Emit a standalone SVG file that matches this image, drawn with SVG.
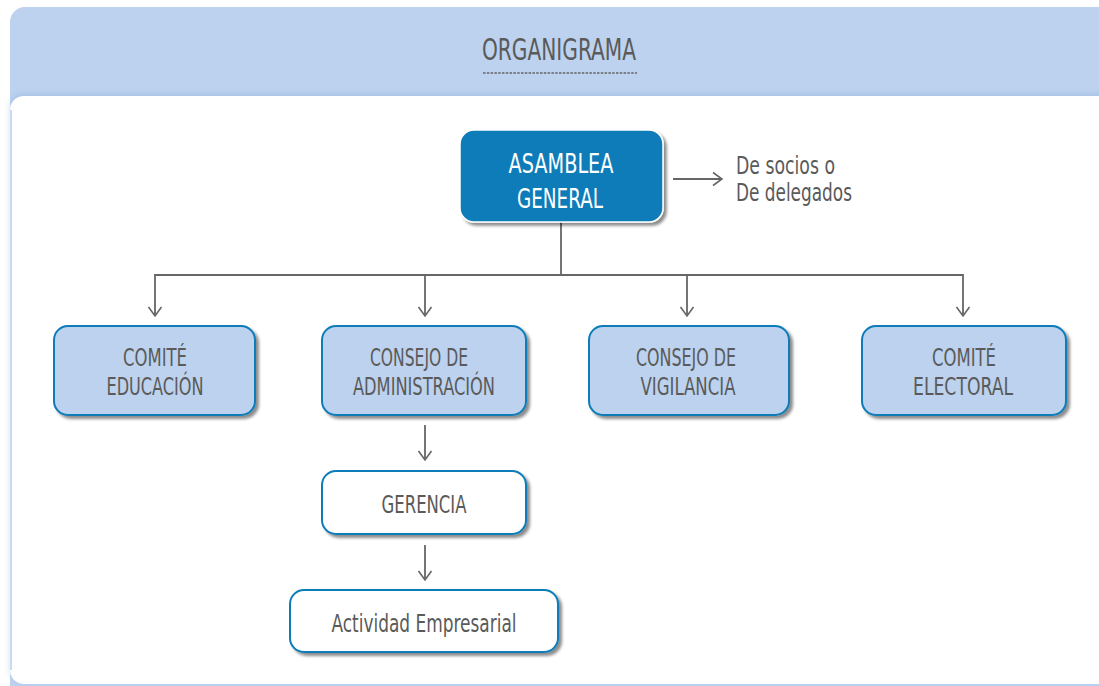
<svg xmlns="http://www.w3.org/2000/svg" width="1099" height="686" viewBox="0 0 1099 686">
<defs>
<filter id="sh" x="-10%" y="-10%" width="130%" height="140%">
<feDropShadow dx="3" dy="3" stdDeviation="1.5" flood-color="#000" flood-opacity="0.45"/>
</filter>
<filter id="psh" x="-5%" y="-5%" width="110%" height="110%">
<feDropShadow dx="0" dy="-2" stdDeviation="3" flood-color="#7f9fd0" flood-opacity="0.35"/>
</filter>
<marker id="ar" markerWidth="16" markerHeight="16" refX="11" refY="8" orient="auto" markerUnits="userSpaceOnUse">
<path d="M2,1.5 L11,8 L2,14.5" fill="none" stroke="#666" stroke-width="1.6"/>
</marker>
<style>
text{font-family:"DejaVu Sans Condensed","Liberation Sans Narrow","Liberation Sans",sans-serif;fill:#5a5a5a;text-anchor:middle;font-size:25px}
.ttl{font-size:30px}
.big{font-size:27px;fill:#fff}
.side{font-size:24px;text-anchor:start}
.act{font-size:24px}
.lb{fill:#bcd2ee;stroke:#0a7bb8;stroke-width:2}
.wb{fill:#fff;stroke:#0a7bb8;stroke-width:2}
.con{fill:none;stroke:#666;stroke-width:1.8}
</style>
</defs>
<rect x="0" y="0" width="1099" height="686" fill="#fff"/>
<rect x="10" y="7" width="1110" height="700" rx="15" fill="#bcd2ee"/>
<rect x="10" y="96" width="1110" height="588" rx="14" fill="#fff" filter="url(#psh)"/>
<path d="M11,110 L11,670" stroke="#c9daf2" stroke-width="2"/>
<g id="title">
<text class="ttl" x="559" y="60" textLength="154" lengthAdjust="spacingAndGlyphs">ORGANIGRAMA</text>
<line x1="483" y1="73" x2="637" y2="73" stroke="#666" stroke-width="1.3" stroke-dasharray="2.5,1.3"/>
</g>
<g id="connectors" class="con">
<line x1="673" y1="179" x2="722" y2="179" marker-end="url(#ar)"/>
<polyline points="561,222 561,275"/>
<line x1="155" y1="275" x2="963" y2="275"/>
<line x1="155" y1="274" x2="155" y2="316" marker-end="url(#ar)"/>
<line x1="425" y1="275" x2="425" y2="316" marker-end="url(#ar)"/>
<line x1="687" y1="275" x2="687" y2="316" marker-end="url(#ar)"/>
<line x1="963" y1="274" x2="963" y2="316" marker-end="url(#ar)"/>
<line x1="425" y1="425" x2="425" y2="460" marker-end="url(#ar)"/>
<line x1="425" y1="545" x2="425" y2="580" marker-end="url(#ar)"/>
</g>
<g id="asamblea">
<rect x="460" y="130" width="203" height="92" rx="14" fill="#0a7bb8" stroke="#fff" stroke-width="1.5" filter="url(#sh)"/>
<text class="big" x="561" y="173" textLength="105" lengthAdjust="spacingAndGlyphs">ASAMBLEA</text>
<text class="big" x="560" y="208" textLength="86" lengthAdjust="spacingAndGlyphs">GENERAL</text>
</g>
<g id="socios">
<text class="side" x="736" y="174" textLength="99" lengthAdjust="spacingAndGlyphs">De socios o</text>
<text class="side" x="736" y="201" textLength="116" lengthAdjust="spacingAndGlyphs">De delegados</text>
</g>
<g id="educacion">
<rect class="lb" x="54" y="326" width="201" height="89" rx="14" filter="url(#sh)"/>
<text x="155" y="366" textLength="64" lengthAdjust="spacingAndGlyphs">COMITÉ</text>
<text x="155" y="395" textLength="97" lengthAdjust="spacingAndGlyphs">EDUCACIÓN</text>
</g>
<g id="administracion">
<rect class="lb" x="322" y="326" width="204" height="89" rx="14" filter="url(#sh)"/>
<text x="419" y="366" textLength="98" lengthAdjust="spacingAndGlyphs">CONSEJO DE</text>
<text x="424" y="395" textLength="142" lengthAdjust="spacingAndGlyphs">ADMINISTRACIÓN</text>
</g>
<g id="vigilancia">
<rect class="lb" x="589" y="326" width="200" height="89" rx="14" filter="url(#sh)"/>
<text x="686" y="366" textLength="100" lengthAdjust="spacingAndGlyphs">CONSEJO DE</text>
<text x="688" y="395" textLength="95" lengthAdjust="spacingAndGlyphs">VIGILANCIA</text>
</g>
<g id="electoral">
<rect class="lb" x="862" y="326" width="204" height="89" rx="14" filter="url(#sh)"/>
<text x="964" y="366" textLength="64" lengthAdjust="spacingAndGlyphs">COMITÉ</text>
<text x="963" y="395" textLength="100" lengthAdjust="spacingAndGlyphs">ELECTORAL</text>
</g>
<g id="gerencia">
<rect class="wb" x="322" y="471" width="204" height="63" rx="14" filter="url(#sh)"/>
<text x="424" y="513" textLength="85" lengthAdjust="spacingAndGlyphs">GERENCIA</text>
</g>
<g id="actividad">
<rect class="wb" x="290" y="590" width="268" height="62" rx="14" filter="url(#sh)"/>
<text class="act" x="424" y="632" textLength="185" lengthAdjust="spacingAndGlyphs">Actividad Empresarial</text>
</g>
</svg>
